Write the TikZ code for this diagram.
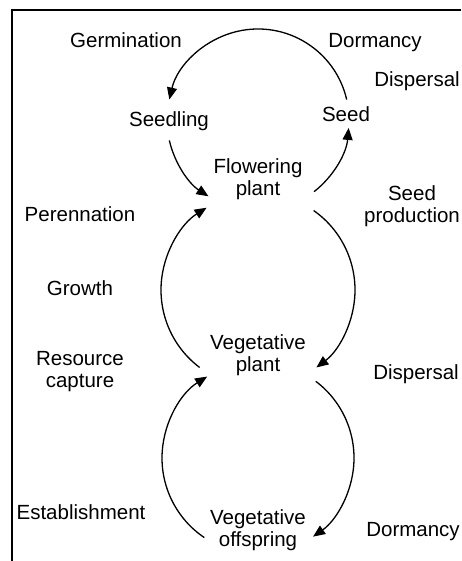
\documentclass[tikz,border=0pt]{standalone}
\usepackage{fontspec}
\setmainfont{Liberation Sans}
\usetikzlibrary{arrows.meta,calc}
\begin{document}
\begin{tikzpicture}[x=1pt,y=1pt,
  lbl/.style={font=\fontsize{20.5}{22}\selectfont, inner sep=0pt, anchor=base, align=center},
  cyc/.style={line width=1.3pt, -{Triangle[length=12pt,width=10pt]}},
  frame/.style={line width=1.5pt}]
\useasboundingbox (0,0) rectangle (461,561);
\fill[white] (0,0) rectangle (461,561);
\coordinate (F0) at (12,0);
\coordinate (F1) at (12,551);
\coordinate (F2) at (461,551);
\draw[frame] (F0) -- (F1) -- (F2);
% labels (two-line labels are anchored at the baseline of their last line)
\node[lbl] (germ) at (126,513) {Germination};
\node[lbl] (dorm1) at (375,513) {Dormancy};
\node[lbl] (disp1) at (417,474) {Dispersal};
\node[lbl] (seedling) at (169,434) {Seedling};
\node[lbl] (seed) at (346,439) {Seed};
\node[lbl] (flower) at (258,365) {Flowering\\plant};
\node[lbl] (seedprod) at (412,338) {Seed\\production};
\node[lbl] (peren) at (80,339) {Perennation};
\node[lbl] (growth) at (80,265) {Growth};
\node[lbl] (resource) at (80,173) {Resource\\capture};
\node[lbl] (veg) at (258,189) {Vegetative\\plant};
\node[lbl] (disp2) at (416,181) {Dispersal};
\node[lbl] (estab) at (81,41) {Establishment};
\node[lbl] (vego) at (258,14) {Vegetative\\offspring};
\node[lbl] (dorm2) at (413,24) {Dormancy};
% circle centres
\coordinate (C1) at (258,441);
\coordinate (C2) at (258,271);
\coordinate (C3) at (258,103);
% cycles
\draw[cyc] ($(C1)+(13:91)$) arc[start angle=13,end angle=167,radius=91];
\draw[cyc] ($(C1)+(193:91)$) arc[start angle=193,end angle=237,radius=91];
\draw[cyc] ($(C1)+(-52:91)$) arc[start angle=-52,end angle=-5,radius=91];
\draw[cyc] ($(C2)+(55:97)$) arc[start angle=55,end angle=-53,radius=97];
\draw[cyc] ($(C2)+(233:97)$) arc[start angle=233,end angle=122,radius=97];
\draw[cyc] ($(C3)+(53:96)$) arc[start angle=53,end angle=-55,radius=96];
\draw[cyc] ($(C3)+(236:96)$) arc[start angle=236,end angle=122,radius=96];
\end{tikzpicture}
\end{document}
